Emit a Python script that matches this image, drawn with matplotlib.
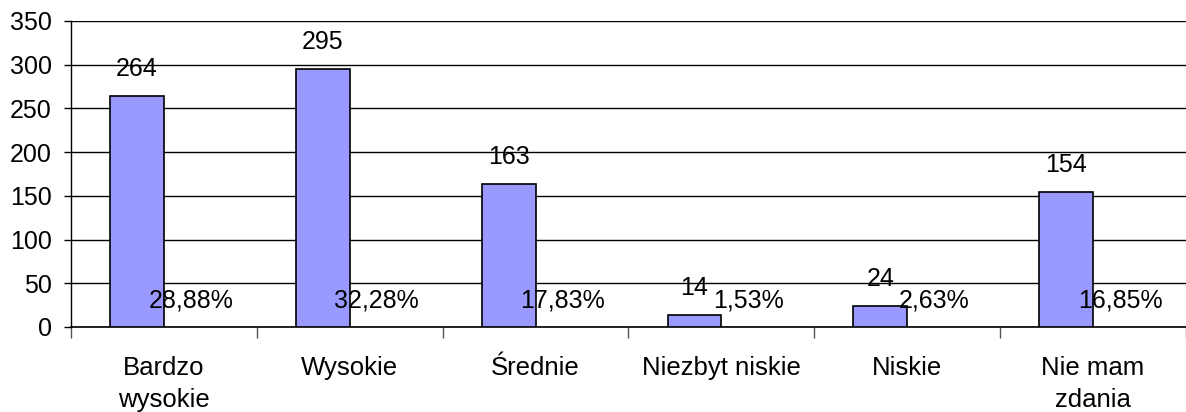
import matplotlib.pyplot as plt
import numpy as np

plt.rcParams['font.family'] = ['Liberation Sans', 'DejaVu Sans']

categories = ['Bardzo\nwysokie', 'Wysokie', 'Średnie', 'Niezbyt niskie', 'Niskie', 'Nie mam\nzdania']
counts = [264, 295, 163, 14, 24, 154]
percents = [28.88, 32.28, 17.83, 1.53, 2.63, 16.85]

fig = plt.figure(figsize=(11.86, 4.12), dpi=100)
ax = fig.add_axes([71 / 1186, 1 - 327 / 412, 1 - 71 / 1186, (327 - 21) / 412])

x = np.arange(len(categories))
w = 0.29
bars = ax.bar(x - w / 2, counts, w, color='#9999FF', edgecolor='black', linewidth=1.2, zorder=3)
# second series (percent) - practically zero height, only its labels show
pbars = ax.bar(x + w / 2, [p / 100 for p in percents], w, color='none', edgecolor='none', zorder=3)

fs = 18
for b, c in zip(bars, counts):
    ax.annotate(str(c), (b.get_x() + b.get_width() / 2, b.get_height()), xytext=(0, 19.5),
                textcoords='offset points', ha='center', va='center', fontsize=fs, zorder=5)
for b, p in zip(pbars, percents):
    ax.annotate(f'{p:.2f}%'.replace('.', ','), (b.get_x() + b.get_width() / 2, b.get_height()),
                xytext=(0, 19), textcoords='offset points', ha='center', va='center', fontsize=fs, zorder=5)

ax.set_xlim(-0.5, len(categories) - 0.5)
ax.set_ylim(0, 350)
ax.set_yticks(range(0, 351, 50))
ax.yaxis.grid(True, color='black', linewidth=1)
ax.set_axisbelow(True)

ax.set_xticks(np.arange(-0.5, len(categories)), minor=False)
ax.set_xticklabels([])
ax.set_xticks(x, minor=True)
ax.set_xticklabels(categories, minor=True, fontsize=18.5, linespacing=1.4)
ax.tick_params(axis='x', which='major', length=8, width=1, color='#555555')
ax.tick_params(axis='x', which='minor', length=0, pad=21)
ax.tick_params(axis='y', length=5, width=1, labelsize=fs, pad=9)

for s in ['top', 'right']:
    ax.spines[s].set_visible(False)
ax.spines['left'].set_linewidth(1)
ax.spines['bottom'].set_linewidth(1.2)

fig.savefig('out.png', dpi=100)
